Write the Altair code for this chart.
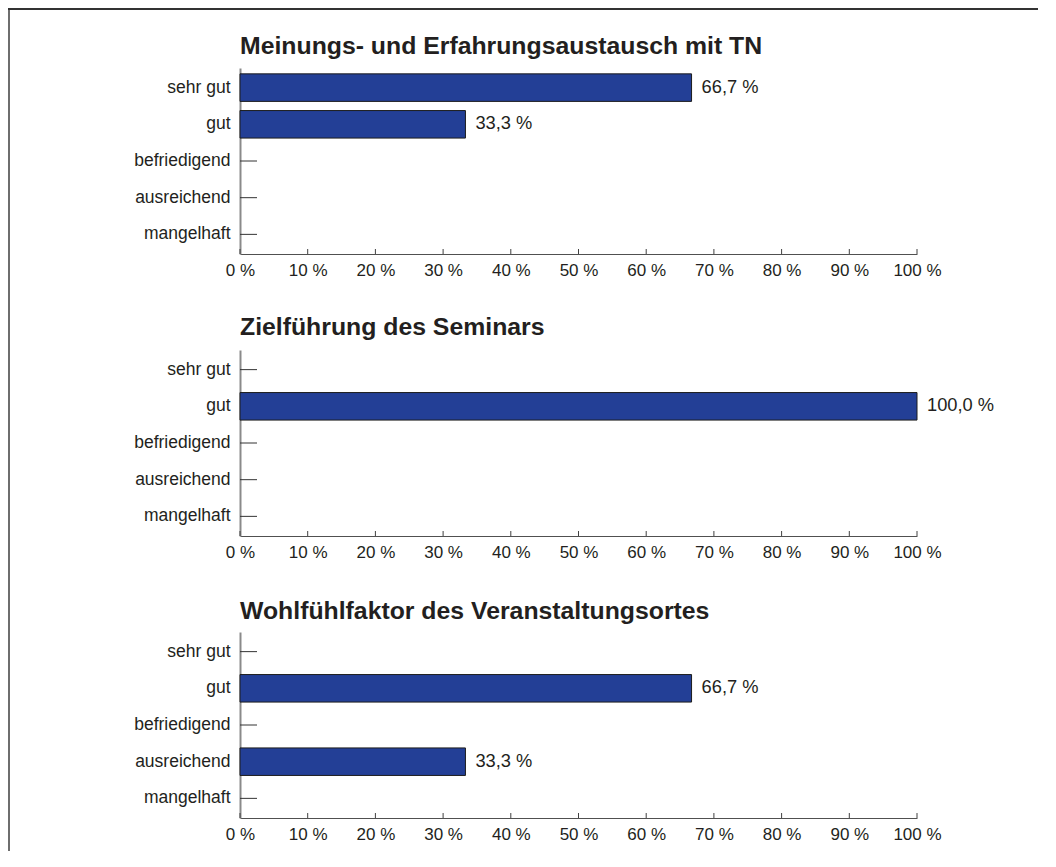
import altair as alt
import pandas as pd

# ---------------- data ----------------
categories = ["sehr gut", "gut", "befriedigend", "ausreichend", "mangelhaft"]
titles = [
    "Meinungs- und Erfahrungsaustausch mit TN",
    "Zielführung des Seminars",
    "Wohlfühlfaktor des Veranstaltungsortes",
]
values_1 = [66.7, 33.3, 0.0, 0.0, 0.0]
values_2 = [0.0, 100.0, 0.0, 0.0, 0.0]
values_3 = [0.0, 66.7, 0.0, 33.3, 0.0]
x_ticks = [0, 10, 20, 30, 40, 50, 60, 70, 80, 90, 100]

# ---------------- style ----------------
W, H = 677, 186
FONT = "Liberation Sans"
BAR = "#233f96"
TXT = "#231f20"

y_scale = alt.Scale(domain=categories, paddingInner=0.25, paddingOuter=0.16)
x_scale = alt.Scale(domain=[0, 100], nice=False, zero=True)
y_axis = alt.Axis(title=None, ticks=False, tickSize=0, labelPadding=10,
                  labelFontSize=17.5, labelColor=TXT, labelFont=FONT,
                  domainColor="#8a8a8a", domainWidth=2, grid=False)
x_axis = alt.Axis(title=None, values=x_ticks, ticks=False, tickSize=0,
                  labelPadding=8, labelFontSize=17, labelColor=TXT, labelFont=FONT,
                  labelExpr="datum.value + ' %'", domainColor="#505050",
                  domainWidth=1.2, grid=False, labelFlush=False)


def panel(title, values, title_y, frame=False):
    df = pd.DataFrame({"cat": categories, "v": values})
    Y = alt.Y("cat:N", sort=categories, scale=y_scale, axis=y_axis)
    X = alt.X("v:Q", scale=x_scale, axis=x_axis)

    one = pd.DataFrame({"a": [0]})
    layers = []
    if frame:
        # page frame: left edge and top edge as thin filled strips
        left = alt.Chart(one).mark_rect(color="#6e6e6e").encode(
            x=alt.value(-232), x2=alt.value(-230),
            y=alt.value(-60), y2=alt.value(783))
        top = alt.Chart(one).mark_rect(color="#333333").encode(
            x=alt.value(-232), x2=alt.value(798),
            y=alt.value(-60), y2=alt.value(-58))
        layers += [left, top]

    ttl = alt.Chart(pd.DataFrame({"t": [title]})).mark_text(
        align="left", baseline="alphabetic", fontSize=24.8, fontWeight="bold",
        color=TXT, font=FONT
    ).encode(x=alt.value(0), y=alt.value(title_y), text="t:N")
    layers.append(ttl)

    yt = alt.Chart(df).mark_rule(color="#333333", strokeWidth=1).encode(
        y=Y, x=alt.value(0), x2=alt.value(17)
    )
    layers.append(yt)

    bars = alt.Chart(df).transform_filter("datum.v > 0").mark_bar(
        fill=BAR, stroke="#1c1c1c", strokeWidth=1
    ).encode(y=Y, x=X)
    layers.append(bars)

    lbl = alt.Chart(df).transform_filter("datum.v > 0").transform_calculate(
        lab="replace(format(datum.v, '.1f'), '.', ',') + ' %'"
    ).mark_text(align="left", baseline="middle", dx=10, fontSize=18.3,
                color=TXT, font=FONT).encode(y=Y, x=X, text="lab:N")
    layers.append(lbl)

    xt = alt.Chart(pd.DataFrame({"t": x_ticks})).mark_rule(
        color="#404040", strokeWidth=1
    ).encode(x=alt.X("t:Q", scale=x_scale, axis=x_axis),
             y=alt.value(H), y2=alt.value(H - 5))
    layers.append(xt)

    return alt.layer(*layers).properties(width=W, height=H)


p1 = panel(titles[0], values_1, -14, frame=True)
p2 = panel(titles[1], values_2, -15)
p3 = panel(titles[2], values_3, -13)

chart = alt.vconcat(p1, p2, p3, spacing=96, bounds="flush").properties(
    padding={"left": 0, "top": 0, "right": 0, "bottom": 0}
).configure(font=FONT).configure_view(stroke=None)

chart.save("out.html", embed_options={"renderer": "svg", "actions": False})
